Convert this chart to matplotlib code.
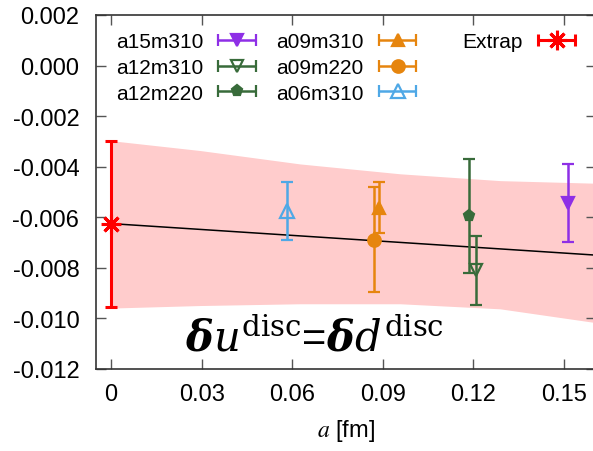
import numpy as np
import matplotlib
matplotlib.use("Agg")
import matplotlib.pyplot as plt
from matplotlib.container import ErrorbarContainer
from matplotlib.legend_handler import HandlerErrorbar

plt.rcParams['font.family'] = ['Liberation Sans', 'DejaVu Sans']
plt.rcParams['mathtext.fontset'] = 'stix'
plt.rcParams['axes.unicode_minus'] = False

# valores
ensembles = ["a15m310", "a12m310", "a12m220", "a09m310", "a09m220", "a06m310"]
a_vals = [0.1512, 0.1208, 0.1184, 0.0887, 0.0872, 0.0584]
du_vals = [-0.00544, -0.00810, -0.00594, -0.00562, -0.00688, -0.00574]
du_errs = [0.00155, 0.00135, 0.00225, 0.00100, 0.00206, 0.00115]
colores = ["#8e2fe6", "#386b3a", "#386b3a", "#e6850e", "#e6850e", "#4fa8e6"]
marcadores = ["v", "v", "p", "^", "o", "^"]
rellenos = [True, False, True, True, True, False]
tamanos = [8, 9, 8, 8, 9, 10]

extrap_a = [0.0]
extrap_val = [-0.00626]
extrap_err = [0.00329]

fit_a = [0.0, 0.161]
fit_val = [-0.00625, -0.00750]

band_a = [0.0, 0.0295, 0.0626, 0.0957, 0.1288, 0.1596, 0.161]
band_hi = [-0.00297, -0.00336, -0.00389, -0.00428, -0.00455, -0.00465, -0.00466]
band_lo = [-0.00959, -0.00949, -0.00942, -0.00942, -0.00962, -0.01015, -0.01018]

xticks = [0, 0.03, 0.06, 0.09, 0.12, 0.15]
xtick_labels = ["0", "0.03", "0.06", "0.09", "0.12", "0.15"]
yticks = [0.002, 0.0, -0.002, -0.004, -0.006, -0.008, -0.010, -0.012]
ytick_labels = ["0.002", "0.000", "-0.002", "-0.004", "-0.006", "-0.008", "-0.010", "-0.012"]

fig = plt.figure(figsize=(5.93, 4.52), dpi=100)
ax = fig.add_axes([96 / 593, 82 / 452, 500 / 593, 354 / 452])

ax.fill_between(band_a, band_lo, band_hi, color="#ffcccc", lw=0, zorder=1)
ax.plot(fit_a, fit_val, color="black", lw=1.1, zorder=2)

handles = []
for i, nombre in enumerate(ensembles):
    eb = ax.errorbar([a_vals[i]], [du_vals[i]], yerr=[du_errs[i]], fmt=marcadores[i],
                     color=colores[i], ms=tamanos[i], mec=colores[i],
                     mfc=colores[i] if rellenos[i] else "none", mew=1.6,
                     elinewidth=1.8, capsize=4, capthick=1.8, zorder=3)
    handles.append(ErrorbarContainer(eb.lines, has_xerr=True, has_yerr=False, label=nombre))

eb = ax.errorbar(extrap_a, extrap_val, yerr=extrap_err, fmt="none", ecolor="red",
                 elinewidth=2.2, capsize=4, capthick=2.2, zorder=4)
ax.plot(extrap_a, extrap_val, ls="none", marker=(8, 2, 0), ms=14, mew=2.2,
        color="red", zorder=5)
proxy_line = ax.plot([], [], ls="none", marker=(8, 2, 0), ms=14, mew=2.2, color="red")[0]
h_ext = ErrorbarContainer((proxy_line, eb.lines[1], eb.lines[2]), has_xerr=True,
                          has_yerr=False, label="Extrap")

hmap = {ErrorbarContainer: HandlerErrorbar(xerr_size=0.9, numpoints=1)}
leg1 = ax.legend(handles=handles, ncol=2, loc="upper left",
                 bbox_to_anchor=(116 / 593, 1 - 33 / 452), bbox_transform=fig.transFigure,
                 frameon=False, markerfirst=False, fontsize=15, handlelength=1.85,
                 handletextpad=0.7, columnspacing=0.95, labelspacing=0.33,
                 borderpad=0, borderaxespad=0, handler_map=hmap)
ax.add_artist(leg1)
ax.legend(handles=[h_ext], loc="upper right",
          bbox_to_anchor=(576 / 593, 1 - 33 / 452), bbox_transform=fig.transFigure,
          frameon=False, markerfirst=False, fontsize=15, handlelength=1.85,
          handletextpad=0.7, borderpad=0, borderaxespad=0, handler_map=hmap)

ax.text(0.0245, -0.01128, r"$\boldsymbol{\delta}u^{\mathrm{disc}}$=$\boldsymbol{\delta}d^{\mathrm{disc}}$",
        fontsize=30, ha="left", va="baseline", zorder=6, math_fontfamily="dejavuserif")

ax.set_xlim(-0.005, 0.1606)
ax.set_ylim(-0.012, 0.002)
ax.set_xticks(xticks)
ax.set_xticklabels(xtick_labels)
ax.set_yticks(yticks)
ax.set_yticklabels(ytick_labels)
ax.tick_params(direction="in", length=7, width=1, colors="#555555", labelcolor="black",
               labelsize=17, top=True, right=True)
ax.tick_params(axis="y", pad=12)
ax.tick_params(axis="x", pad=10)
for s in ax.spines.values():
    s.set_color("#333333")
    s.set_linewidth(1.2)
ax.set_xlabel(r"$a$ [fm]", fontsize=17, labelpad=9)

fig.savefig("out.png", dpi=100)
